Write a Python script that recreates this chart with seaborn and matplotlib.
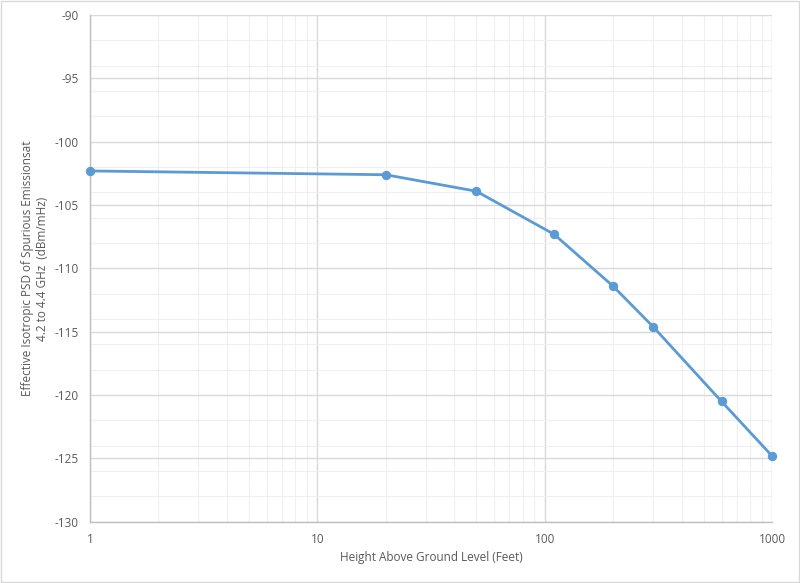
import numpy as np
import pandas as pd
import matplotlib
matplotlib.use("Agg")
import matplotlib.pyplot as plt
from matplotlib.ticker import FixedLocator, LogLocator, NullFormatter, MultipleLocator
import seaborn as sns

# values
height_ft = [1, 20, 50, 110, 200, 300, 600, 1000]
psd_dbm = [-102.3, -102.6, -103.9, -107.3, -111.4, -114.6, -120.5, -124.8]
x_ticks = [1, 10, 100, 1000]
x_tick_labels = ["1", "10", "100", "1000"]

df = pd.DataFrame({"height": height_ft, "psd": psd_dbm})

sns.set_style("white")
plt.rcParams['font.family'] = ['Open Sans', 'DejaVu Sans']
plt.rcParams['axes.unicode_minus'] = False

text_col = '#595959'
fig = plt.figure(figsize=(8, 5.83), dpi=100)
ax = fig.add_axes([0.1125, 0.105, 0.8525, 0.869])

sns.lineplot(data=df, x="height", y="psd", ax=ax, color='#5B9BD5', linewidth=2,
             marker='o', markersize=6, markeredgecolor='#5B9BD5', clip_on=False, zorder=5)

ax.set_xscale('log')
ax.set_xlim(1, 1000)
ax.set_ylim(-130, -90)
ax.xaxis.set_major_locator(FixedLocator(x_ticks))
ax.set_xticklabels(x_tick_labels)
ax.xaxis.set_minor_locator(LogLocator(base=10, subs=np.arange(2, 10)))
ax.xaxis.set_minor_formatter(NullFormatter())
ax.yaxis.set_major_locator(MultipleLocator(5))
ax.yaxis.set_minor_locator(MultipleLocator(2))

ax.grid(which='major', color='#d9d9d9', linewidth=1)
ax.grid(which='minor', color='#efefef', linewidth=0.8)
ax.set_axisbelow(True)

for side in ['top', 'right']:
    ax.spines[side].set_visible(False)
for side in ['left', 'bottom']:
    ax.spines[side].set_color('#bfbfbf')
    ax.spines[side].set_linewidth(1)

ax.tick_params(which='both', length=0, labelsize=8.5, colors=text_col, pad=8)

ax.set_xlabel('Height Above Ground Level (Feet)', fontsize=8.5, color=text_col, labelpad=4)
ax.set_ylabel('Effective Isotropic PSD of Spurious Emissionsat\n4.2 to 4.4 GHz  (dBm/mHz)',
              fontsize=8.5, color=text_col, labelpad=4)

# light frame around the whole chart
fig.patches.append(plt.Rectangle((0.001, 0.001), 0.998, 0.997, transform=fig.transFigure,
                                 fill=False, edgecolor='#d9d9d9', linewidth=1))

fig.savefig('out.png', dpi=100, facecolor='white')
